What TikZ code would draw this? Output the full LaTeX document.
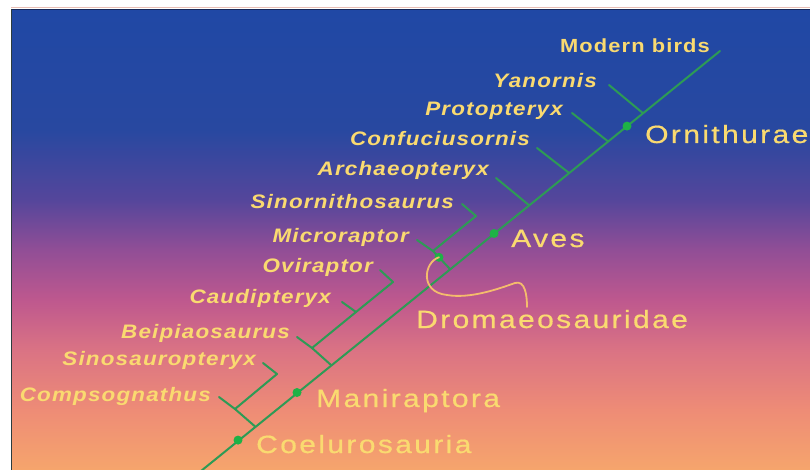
\documentclass[tikz,border=0pt]{standalone}
\usepackage{fontspec}
\setmainfont{Liberation Sans}
\newfontfamily\taxafont[FakeStretch=1.15,LetterSpace=6]{Liberation Sans}
\newfontfamily\cladefont[FakeStretch=1.2,LetterSpace=9.5,FakeBold=0.6]{Liberation Sans}
\usetikzlibrary{calc}
\definecolor{bgA}{RGB}{32,72,165}
\definecolor{bgB}{RGB}{40,72,160}
\definecolor{bgC}{RGB}{85,70,155}
\definecolor{bgD}{RGB}{145,78,150}
\definecolor{bgE}{RGB}{190,88,142}
\definecolor{bgF}{RGB}{218,115,132}
\definecolor{bgG}{RGB}{238,140,118}
\definecolor{bgH}{RGB}{246,165,108}
\definecolor{lineg}{RGB}{45,155,85}
\definecolor{dotg}{RGB}{30,178,70}
\definecolor{labelc}{RGB}{250,218,112}
\definecolor{curvec}{RGB}{244,188,108}
\definecolor{edgepink}{RGB}{232,190,180}
\definecolor{edgenavy}{RGB}{22,40,90}
\definecolor{edgeleft}{RGB}{45,60,62}
\pgfdeclareverticalshading{skygrad}{100bp}{color(0bp)=(bgH); color(25bp)=(bgH); color(31.52bp)=(bgG); color(38.04bp)=(bgF); color(43.48bp)=(bgE); color(48.91bp)=(bgD); color(54.35bp)=(bgC); color(61.96bp)=(bgB); color(75bp)=(bgA); color(100bp)=(bgA)}
\begin{document}
\begin{tikzpicture}[x=1pt,y=-1pt,
  branch/.style={draw=lineg, line width=2pt, line cap=round, line join=round},
  dotn/.style={circle, fill=dotg, inner sep=0pt, minimum size=9pt},
  taxon/.style={inner sep=0pt, text=labelc, font=\taxafont\bfseries\itshape\fontsize{19.5}{22}\selectfont, anchor=base east},
  modern/.style={inner sep=0pt, text=labelc, font=\taxafont\bfseries\fontsize{19}{22}\selectfont, anchor=base east},
  clade/.style={inner sep=0pt, text=labelc, font=\cladefont\fontsize{25}{30}\selectfont, anchor=base west},
  link/.style={draw=curvec, line width=1.8pt, line cap=round}]
\useasboundingbox (0,0) rectangle (810,470);
\fill[white] (0,0) rectangle (810,470);
\shade[shading=skygrad] (12,10) rectangle (810,470);
\draw[edgepink, line width=1pt] (11,7.5) -- (810,7.5);
\draw[edgenavy, line width=1.4pt] (11,9.7) -- (810,9.7);
\draw[edgeleft, line width=1.4pt] (11.7,9) -- (11.7,470);

% backbone coordinates
\coordinate (root) at (201,471);
\coordinate (top) at (720,51);
\coordinate (jY) at (643,113.2);
\coordinate (jP) at (608,141.4);
\coordinate (jC) at (569,172.9);
\coordinate (jA) at (529,205.2);
\coordinate (jD) at (450,269);
\coordinate (jM) at (331,365);
\coordinate (jCo) at (255,426.4);
% tips and inner nodes
\coordinate (tY) at (609,85);
\coordinate (tP) at (572,113);
\coordinate (tC) at (537,148);
\coordinate (tA) at (496,178);
\coordinate (nDr) at (433,251);
\coordinate (tMi) at (417,240);
\coordinate (bSi) at (476,216);
\coordinate (tSi) at (462,204);
\coordinate (nBe) at (312,348);
\coordinate (tBe) at (297,337);
\coordinate (nCa) at (356,312);
\coordinate (tCa) at (342,302);
\coordinate (bOv) at (393,282);
\coordinate (tOv) at (380,270);
\coordinate (nCo) at (235,409);
\coordinate (tCo) at (219,397);
\coordinate (bSs) at (277,374);
\coordinate (tSs) at (263,363);

\draw[branch] (root) -- (top);
\draw[branch] (jY) -- (tY);
\draw[branch] (jP) -- (tP);
\draw[branch] (jC) -- (tC);
\draw[branch] (jA) -- (tA);
\draw[branch] (jD) -- (nDr) -- (tMi);
\draw[branch] (nDr) -- (bSi) -- (tSi);
\draw[branch] (jM) -- (nBe) -- (tBe);
\draw[branch] (nBe) -- (nCa) -- (bOv) -- (tOv);
\draw[branch] (nCa) -- (tCa);
\draw[branch] (jCo) -- (nCo) -- (tCo);
\draw[branch] (nCo) -- (bSs) -- (tSs);

% clade dots
\node[dotn] (dOrn) at (627,126.1) {};
\node[dotn] (dAves) at (494,233.5) {};
\node[dotn] (dDr) at ($(jD)!0.65!(nDr)$) {};
\node[dotn] (dMan) at (297,392.5) {};
\node[dotn] (dCoe) at (238,440.1) {};

% taxa labels
\node[modern] (lMod) at (710,53) {Modern birds};
\node[taxon] (lYan) at (597,88) {Yanornis};
\node[taxon] (lPro) at (563,116) {Protopteryx};
\node[taxon] (lCon) at (530,146) {Confuciusornis};
\node[taxon] (lArc) at (489,176) {Archaeopteryx};
\node[taxon] (lSin) at (454,208) {Sinornithosaurus};
\node[taxon] (lMic) at (409,242) {Microraptor};
\node[taxon] (lOvi) at (373,272) {Oviraptor};
\node[taxon] (lCau) at (331,303) {Caudipteryx};
\node[taxon] (lBei) at (290,338) {Beipiaosaurus};
\node[taxon] (lSns) at (256,365) {Sinosauropteryx};
\node[taxon] (lCom) at (211,401) {Compsognathus};

% clade labels
\node[clade] (lOrn) at (645,143) {Ornithurae};
\node[clade] (lAve) at (511,247) {Aves};
\node[clade] (lDro) at (416,328) {Dromaeosauridae};
\node[clade] (lMan) at (316,407) {Maniraptora};
\node[clade] (lCoe) at (256,453) {Coelurosauria};

% Dromaeosauridae pointer
\coordinate (cEnd) at (527,307);
\draw[link] (dDr.center) .. controls (424,262) and (419,292) .. (447,295)
  .. controls (470,299) and (498,289) .. (515,283)
  .. controls (525,280) and (527,295) .. (cEnd);
\end{tikzpicture}
\end{document}
